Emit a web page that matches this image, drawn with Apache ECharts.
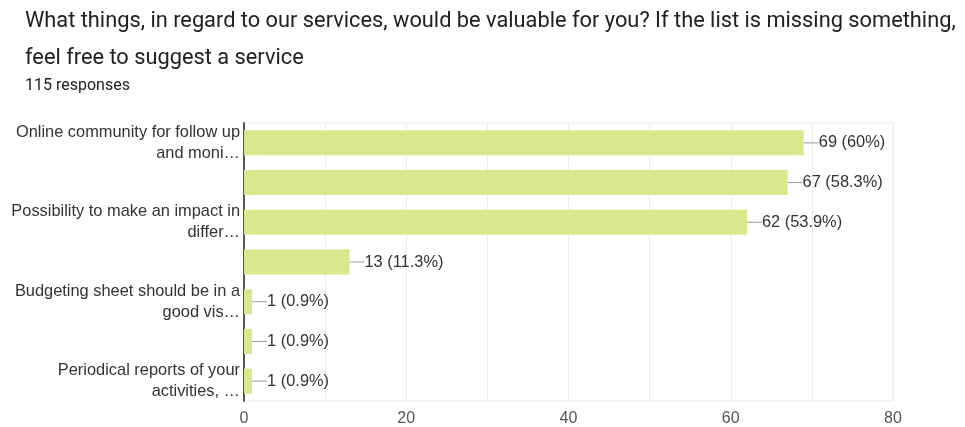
<!DOCTYPE html>
<html>
<head>
<meta charset="utf-8">
<style>
  html, body { margin: 0; padding: 0; background: #fff; }
  #chart { width: 965px; height: 427px; }
</style>
<script src="https://cdn.jsdelivr.net/npm/echarts@6/dist/echarts.min.js"></script>
</head>
<body>
<div id="chart"></div>
<script>
// Survey answers (only some long option names fit as axis labels)
const categories = [
  'Online community for follow up\nand moni\u2026',
  '',
  'Possibility to make an impact in\ndiffer\u2026',
  ' ',
  'Budgeting sheet should be in a\ngood vis\u2026',
  '  ',
  'Periodical reports of your\nactivities, \u2026'
];
const counts = [69, 67, 62, 13, 1, 1, 1];
const totalResponses = 115;
const xTicks = [0, 20, 40, 60, 80];

const chart = echarts.init(document.getElementById('chart'));

function pct(v) {
  return parseFloat((v / totalResponses * 100).toFixed(1)) + '%';
}

chart.setOption({
  animation: false,
  title: {
    text: 'What things, in regard to our services, would be valuable for you? If the list is missing something,\nfeel free to suggest a service',
    subtext: totalResponses + ' responses',
    left: 20,
    top: -2,
    itemGap: 0,
    textStyle: {
      fontFamily: 'Roboto',
      fontSize: 21.8,
      fontWeight: 'normal',
      color: '#202124',
      lineHeight: 37
    },
    subtextStyle: {
      fontFamily: 'Roboto',
      fontSize: 16,
      color: '#202124',
      lineHeight: 18
    }
  },
  grid: {
    left: 244,
    right: 72,
    top: 123,
    bottom: 25,
    show: true,
    borderColor: '#ebebeb',
    borderWidth: 1
  },
  xAxis: {
    type: 'value',
    min: 0,
    max: 80,
    interval: 10,
    axisLine: { show: false },
    axisTick: { show: false },
    splitLine: { lineStyle: { color: '#ebebeb' } },
    axisLabel: {
      margin: 10,
      fontFamily: 'Liberation Sans',
      fontSize: 16,
      color: '#555',
      formatter: v => (xTicks.indexOf(v) >= 0 ? String(v) : '')
    }
  },
  yAxis: {
    type: 'category',
    inverse: true,
    data: categories,
    axisLine: { show: true, lineStyle: { color: '#555', width: 2 } },
    axisTick: { show: false },
    axisLabel: {
      margin: 4,
      fontFamily: 'Liberation Sans',
      fontSize: 16.4,
      color: '#333',
      lineHeight: 21
    }
  },
  series: [{
    type: 'bar',
    data: counts,
    barWidth: 25,
    itemStyle: { color: '#d9e88d' },
    label: {
      show: true,
      position: 'right',
      distance: 0,
      formatter: p => '{l|}{v|' + p.value + ' (' + pct(p.value) + ')}',
      rich: {
        l: { width: 15, height: 1, backgroundColor: '#999' },
        v: {
          fontFamily: 'Liberation Sans',
          fontSize: 16.4,
          color: '#333'
        }
      }
    }
  }]
});
</script>
</body>
</html>
